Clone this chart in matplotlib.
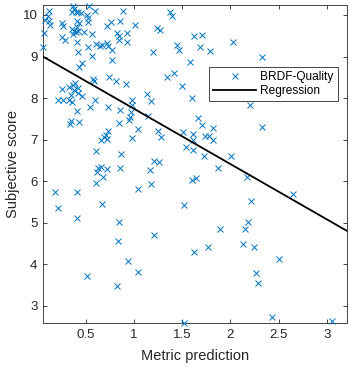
import matplotlib
matplotlib.use("Agg")
import matplotlib.pyplot as plt
import numpy as np

plt.rcParams['font.family'] = ['Liberation Sans', 'DejaVu Sans']

metric_prediction = [
    0.362, 0.378, 0.358, 0.396, 0.420, 0.443, 0.534, 0.593, 0.111, 0.108,
    0.074, 0.119, 0.123, 0.248, 0.264, 0.410, 0.422, 0.403, 0.510, 0.516,
    0.521, 0.760, 0.718, 0.858, 0.887, 1.009, 0.351, 0.378, 0.401, 0.365,
    0.417, 0.479, 0.559, 0.817, 0.843, 0.926, 0.843, 0.929, 0.062, 0.251,
    0.282, 0.403, 0.521, 0.604, 0.640, 0.666, 0.713, 0.729, 0.765, 0.056,
    0.417, 0.562, 0.767, 1.372, 1.396, 1.237, 1.272, 1.622, 1.196, 1.440,
    1.463, 1.575, 0.453, 0.427, 1.705, 1.681, 1.791, 2.030, 2.331,
    0.734, 0.812, 0.919, 0.576, 0.583, 1.417, 1.344, 1.500,
    0.248, 0.323, 0.360, 0.386, 0.414, 0.375, 0.344, 0.420, 0.455,
    0.212, 0.264, 0.327, 0.351, 0.588, 0.542, 0.732, 0.410, 0.853,
    0.973, 0.978, 0.967, 1.137, 1.170, 1.147, 1.604, 0.957, 0.945,
    0.344, 0.334, 0.427, 0.843, 1.035, 1.251, 1.282, 0.732, 0.706,
    0.682, 0.656, 0.715, 0.981, 1.511, 1.611, 1.614, 1.542, 1.611,
    1.666, 1.708, 1.814, 1.731, 1.778, 1.814, 2.331, 1.729, 2.011,
    1.866, 0.599, 0.864, 1.206, 1.263,
    0.628, 0.656, 0.713, 0.611, 0.674, 0.607, 0.856, 1.165, 1.180,
    1.040, 1.606, 1.643, 2.175, 0.181, 0.403, 0.212, 0.671, 0.410,
    1.521, 0.846, 0.835, 1.209, 1.620, 0.939, 1.040, 0.514, 0.825,
    1.518, 2.653, 2.211, 2.186, 2.151, 1.895, 1.767, 2.134, 2.248,
    2.508, 2.266, 2.290, 2.435, 3.052, 2.203,
]
subjective_score = [
    10.224, 10.144, 10.079, 10.065, 10.072, 10.041, 10.217, 10.096, 10.084, 9.976,
    9.880, 9.856, 9.759, 9.815, 9.728, 9.863, 9.800, 9.719, 9.988, 9.928,
    9.832, 9.839, 9.735, 9.844, 10.089, 9.759, 9.651, 9.615, 9.579, 9.543,
    9.603, 9.579, 9.536, 9.560, 9.495, 9.560, 9.387, 9.358, 9.560, 9.471,
    9.387, 9.338, 9.230, 9.290, 9.242, 9.266, 9.314, 9.261, 9.165, 9.237,
    9.110, 9.006, 8.917, 10.065, 9.983, 9.694, 9.639, 9.495, 9.103, 9.278,
    9.158, 8.862, 8.853, 8.737, 9.519, 9.223, 9.141, 9.343, 8.997,
    8.501, 8.412, 8.333, 8.453, 8.412, 8.605, 8.501, 8.285,
    8.212, 8.256, 8.304, 8.357, 8.244, 8.184, 8.087, 8.123, 8.063,
    7.955, 7.955, 7.955, 7.907, 7.955, 7.780, 7.794, 7.690, 7.714,
    7.955, 7.823, 7.674, 8.092, 7.931, 7.563, 7.996, 7.553, 7.474,
    7.443, 7.378, 7.414, 7.394, 7.257, 7.209, 7.060, 7.216, 7.125,
    7.053, 6.993, 7.005, 7.048, 7.178, 7.149, 6.993, 6.831, 6.764,
    7.515, 7.354, 7.282, 7.077, 7.101, 6.981, 7.298, 6.608, 6.608,
    6.319, 6.721, 6.649, 6.480, 6.456,
    6.312, 6.336, 6.295, 6.235, 6.096, 5.951, 6.327, 6.271, 5.927,
    5.807, 6.031, 6.072, 6.096, 5.735, 5.735, 5.350, 5.449, 5.109,
    5.429, 5.013, 4.563, 4.700, 4.287, 4.082, 3.806, 3.721, 3.480,
    2.600, 5.686, 5.533, 5.013, 4.845, 4.845, 4.431, 4.484, 4.412,
    4.130, 3.786, 3.545, 2.727, 2.646, 7.840,
]

reg_intercept = 9.070
reg_slope = -1.328

x_limits = [0.053, 3.211]
y_limits = [2.591, 10.24]
x_ticks = [0.5, 1, 1.5, 2, 2.5, 3]
x_ticklabels = ['0.5', '1', '1.5', '2', '2.5', '3']
y_ticks = [3, 4, 5, 6, 7, 8, 9, 10]

series_label = 'BRDF-Quality'
line_label = 'Regression'
x_label = 'Metric prediction'
y_label = 'Subjective score'

W, H = 351, 370
fig = plt.figure(figsize=(W / 100, H / 100), dpi=100)
ax = fig.add_axes([43 / W, (H - 323) / H, (347 - 43) / W, (323 - 5) / H])

axc = '#262626'
ax.plot(metric_prediction, subjective_score, linestyle='none', marker='x',
        color='#0072BD', markersize=4.8, markeredgewidth=0.7,
        label=series_label, clip_on=False, zorder=3)
xr = np.array(x_limits)
ax.plot(xr, reg_intercept + reg_slope * xr, color='black', linewidth=1.3,
        label=line_label, zorder=4)

ax.set_xlim(x_limits)
ax.set_ylim(y_limits)
ax.set_xticks(x_ticks)
ax.set_xticklabels(x_ticklabels)
ax.set_yticks(y_ticks)
ax.tick_params(direction='in', top=True, right=True, length=3, width=0.6,
               colors=axc, labelsize=9.5, pad=4)
for s in ax.spines.values():
    s.set_color(axc)
    s.set_linewidth(0.6)
ax.set_xlabel(x_label, fontsize=10.5, color=axc, labelpad=6)
ax.set_ylabel(y_label, fontsize=10.5, color=axc, labelpad=2)

leg = ax.legend(loc='upper right', bbox_to_anchor=(0.969, 0.806),
                borderaxespad=0, fancybox=False, framealpha=1,
                edgecolor=axc, fontsize=8.6, handlelength=3.6,
                handletextpad=0.3, borderpad=0.35, labelspacing=0.2)
leg.get_frame().set_linewidth(0.6)
leg.set_zorder(10)
for t in leg.get_texts():
    t.set_color('black')

fig.savefig('out.png', dpi=100)
